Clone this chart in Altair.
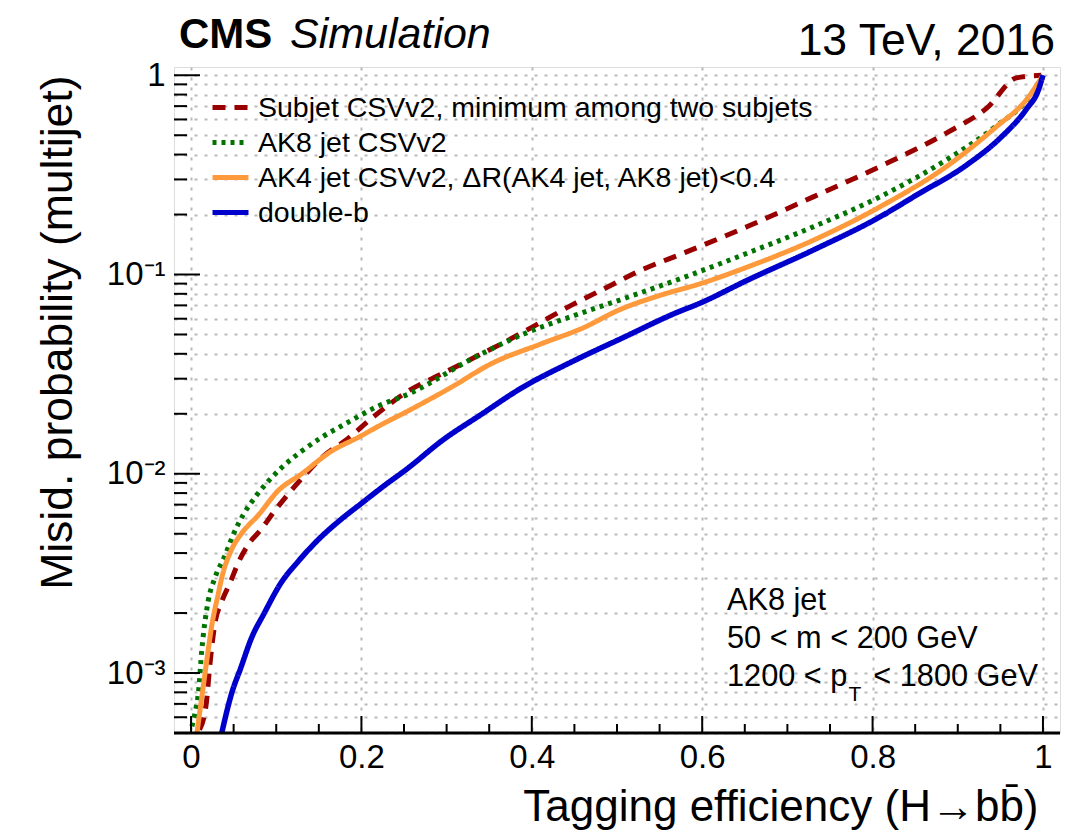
import altair as alt
import pandas as pd

FONT = "Liberation Sans"

series_names = [
    "Subjet CSVv2, minimum among two subjets",
    "AK8 jet CSVv2",
    "AK4 jet CSVv2, ΔR(AK4 jet, AK8 jet)<0.4",
    "double-b",
]
series_colors = ["#990000", "#007300", "#FF9A3C", "#0000CC"]
series_dashes = [[13, 9], [4, 5], [1, 0], [1, 0]]

# Subjet CSVv2 (red dashed)
red_x = [0.010, 0.018, 0.022, 0.028, 0.036, 0.046, 0.056, 0.067, 0.083, 0.098,
         0.114, 0.134, 0.153, 0.184, 0.214, 0.255, 0.294, 0.333, 0.372, 0.411,
         0.450, 0.489, 0.528, 0.580, 0.653, 0.731, 0.809, 0.887, 0.935, 0.969, 0.998]
red_y = [5.2e-4, 7.1e-4, 1.09e-3, 1.77e-3, 2.28e-3, 2.85e-3, 3.62e-3, 4.4e-3, 5.3e-3, 6.5e-3,
         7.9e-3, 9.9e-3, 0.0120, 0.0150, 0.0193, 0.0260, 0.0317, 0.0384, 0.0467, 0.0577,
         0.0714, 0.0866, 0.105, 0.129, 0.174, 0.246, 0.349, 0.514, 0.690, 0.970, 1.0]

# AK8 jet CSVv2 (green dotted)
green_x = [0.001, 0.005, 0.0087, 0.0126, 0.020, 0.028, 0.040, 0.050, 0.061, 0.075,
           0.091, 0.106, 0.130, 0.153, 0.180, 0.220, 0.255, 0.333, 0.391, 0.450,
           0.508, 0.575, 0.653, 0.731, 0.809, 0.887, 0.946, 0.981, 1.0]
green_y = [5.4e-4, 6.4e-4, 8.0e-4, 1.3e-3, 2.28e-3, 3.0e-3, 3.9e-3, 5.0e-3, 6.2e-3, 7.6e-3,
           9.2e-3, 0.0107, 0.0130, 0.0152, 0.0177, 0.0219, 0.0251, 0.0384, 0.0504, 0.0623,
           0.0757, 0.0955, 0.128, 0.174, 0.246, 0.377, 0.560, 0.750, 1.0]

# AK4 jet CSVv2 (orange)
orange_x = [0.007, 0.0165, 0.025, 0.032, 0.036, 0.048, 0.059, 0.079, 0.102, 0.130,
            0.165, 0.196, 0.223, 0.255, 0.305, 0.352, 0.411, 0.462, 0.501, 0.551,
            0.598, 0.653, 0.731, 0.809, 0.887, 0.946, 0.981, 1.0]
orange_y = [5.0e-4, 1.0e-3, 1.8e-3, 2.5e-3, 3.0e-3, 4.2e-3, 5.0e-3, 6.2e-3, 8.2e-3, 0.0100,
            0.0130, 0.0152, 0.0176, 0.0207, 0.0271, 0.0356, 0.0449, 0.0544, 0.0660, 0.0787,
            0.0900, 0.109, 0.149, 0.219, 0.349, 0.555, 0.757, 1.0]

# double-b (blue)
blue_x = [0.036, 0.048, 0.058, 0.071, 0.086, 0.106, 0.125, 0.150, 0.176, 0.200,
          0.225, 0.255, 0.294, 0.341, 0.387, 0.450, 0.508, 0.567, 0.598, 0.653,
          0.731, 0.809, 0.852, 0.911, 0.950, 0.981, 0.9945, 1.0]
blue_y = [5.0e-4, 8.0e-4, 1.05e-3, 1.5e-3, 2.0e-3, 2.85e-3, 3.6e-3, 4.7e-3, 5.9e-3, 7.1e-3,
          8.6e-3, 0.0107, 0.0146, 0.0199, 0.0268, 0.0370, 0.0484, 0.0636, 0.0720, 0.0936,
          0.133, 0.195, 0.251, 0.356, 0.485, 0.680, 0.840, 1.0]

x_major = [0, 0.2, 0.4, 0.6, 0.8, 1.0]
x_minor = [0.05, 0.1, 0.15, 0.25, 0.3, 0.35, 0.45, 0.5, 0.55, 0.65, 0.7, 0.75, 0.85, 0.9, 0.95]
y_major = [0.001, 0.01, 0.1, 1.0]
y_minor = [5e-4, 6e-4, 7e-4, 8e-4, 9e-4,
           2e-3, 3e-3, 4e-3, 5e-3, 6e-3, 7e-3, 8e-3, 9e-3,
           0.02, 0.03, 0.04, 0.05, 0.06, 0.07, 0.08, 0.09,
           0.2, 0.3, 0.4, 0.5, 0.6, 0.7, 0.8, 0.9]

frames = []
for name, xs, ys in zip(series_names, [red_x, green_x, orange_x, blue_x],
                        [red_y, green_y, orange_y, blue_y]):
    frames.append(pd.DataFrame({"series": name, "eff": xs, "mis": ys}))
df = pd.concat(frames, ignore_index=True)

W, H = 886, 666
GRID = "#b9b9b9"
xscale = alt.Scale(domain=[-0.02, 1.02], nice=False, zero=False)
yscale = alt.Scale(type="log", domain=[5e-4, 1.1], nice=False)

xaxis = alt.Axis(
    values=x_major, format="~g", grid=True, gridColor=GRID, gridDash=[3, 7], gridWidth=2,
    ticks=False, domain=False, labelFont=FONT, labelFontSize=33, labelColor="black",
    labelPadding=8, title="Tagging efficiency (H→bb̄)", titleFont=FONT, titleFontSize=44,
    titleFontWeight="normal", titleColor="black", titleX=864, titleY=87, titleAlign="right",
    titleBaseline="alphabetic", titleAngle=0,
)
ylabel_expr = ("datum.value == 1 ? '1' : datum.value == 0.1 ? '10⁻¹' : "
               "datum.value == 0.01 ? '10⁻²' : datum.value == 0.001 ? '10⁻³' : ''")
yaxis = alt.Axis(
    values=sorted(y_major + y_minor), labelExpr=ylabel_expr, labelOverlap=False,
    grid=True, gridColor=GRID, gridDash=[3, 7], gridWidth=2,
    ticks=False, domain=False, labelFont=FONT, labelFontSize=33, labelColor="black",
    labelPadding=9, title="Misid. probability (multijet)", titleFont=FONT, titleFontSize=44.5,
    titleFontWeight="normal", titleColor="black", titleX=-103, titleY=8, titleAlign="right",
    titleBaseline="alphabetic", titleAngle=-90,
)

legend = alt.Legend(
    orient="none", legendX=36, legendY=20, title=None, symbolType="stroke",
    symbolSize=1296, symbolStrokeWidth=5, labelFont=FONT, labelFontSize=28.5,
    labelColor="black", labelOffset=7, rowPadding=0, labelLimit=1000,
)
color_enc = alt.Color("series:N", scale=alt.Scale(domain=series_names, range=series_colors),
                      legend=legend)
dash_enc = alt.StrokeDash("series:N", scale=alt.Scale(domain=series_names, range=series_dashes),
                          legend=legend)


def xenc(field):
    return alt.X(field, type="quantitative", scale=xscale, axis=xaxis)


def yenc(field):
    return alt.Y(field, type="quantitative", scale=yscale, axis=yaxis)


base = alt.Chart(df)
lines = []
for i, name in enumerate(series_names):
    lines.append(
        base.transform_filter(alt.datum.series == name)
        .mark_line(clip=True, strokeWidth=5.5 if i == 3 else 5, interpolate="monotone")
        .encode(x=xenc("eff"), y=yenc("mis"), color=color_enc, strokeDash=dash_enc)
    )

xt_maj = alt.Chart(pd.DataFrame({"v": x_major})).mark_rule(color="black", strokeWidth=2).encode(
    x=xenc("v"), y=alt.value(H), y2=alt.value(H - 17))
xt_min = alt.Chart(pd.DataFrame({"v": x_minor})).mark_rule(color="black", strokeWidth=2).encode(
    x=xenc("v"), y=alt.value(H), y2=alt.value(H - 9))
yt_maj = alt.Chart(pd.DataFrame({"v": y_major})).mark_rule(color="black", strokeWidth=2).encode(
    y=yenc("v"), x=alt.value(0), x2=alt.value(26))
yt_min = alt.Chart(pd.DataFrame({"v": y_minor})).mark_rule(color="black", strokeWidth=2).encode(
    y=yenc("v"), x=alt.value(0), x2=alt.value(13))
bottom_line = alt.Chart(pd.DataFrame({"v": [0]})).mark_rule(color="black", strokeWidth=3).encode(
    x=alt.value(0), x2=alt.value(W), y=alt.value(H))


def label(txt, x, y, size, align="left", weight="normal", style="normal"):
    return alt.Chart(pd.DataFrame({"t": [txt]})).mark_text(
        align=align, baseline="alphabetic", fontSize=size, font=FONT,
        fontWeight=weight, fontStyle=style, color="black",
    ).encode(text="t:N", x=alt.value(x), y=alt.value(y))


texts = [
    label("CMS", 5, -19, 42, weight="bold"),
    label("Simulation", 116, -19, 43, style="italic"),
    label("13 TeV, 2016", 881, -12, 44.5, align="right"),
    label("AK8 jet", 553, 543, 30.7),
    label("50 < m < 200 GeV", 553, 581, 30.7),
    label("1200 < p", 553, 619, 30.7),
    label("T", 681, 634, 21, align="center"),
    label("< 1800 GeV", 864, 619, 30.7, align="right"),
]

chart = alt.layer(*lines, xt_maj, xt_min, yt_maj, yt_min, bottom_line, *texts).properties(
    width=W, height=H,
    autosize=alt.AutoSizeParams(type="none"),
    padding={"left": 174, "top": 67, "right": 18, "bottom": 99},
).configure_view(stroke="black", strokeWidth=2).configure(background="white")

chart.save("out.html", embed_options={"renderer": "svg", "actions": False})
